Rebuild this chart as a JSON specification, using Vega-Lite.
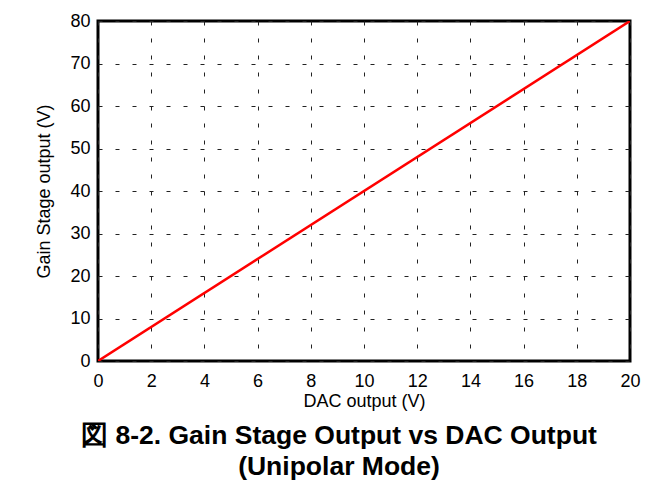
{
  "$schema": "https://vega.github.io/schema/vega-lite/v6.json",
  "width": 532,
  "height": 340,
  "autosize": {"type": "none"},
  "padding": {"left": 98, "top": 21, "right": 33, "bottom": 130},
  "background": "white",
  "config": {
    "font": "Liberation Sans",
    "view": {"stroke": "black", "strokeWidth": 3}
  },
  "title": {
    "text": ["図 8-2. Gain Stage Output vs DAC Output", "(Unipolar Mode)"],
    "orient": "bottom",
    "anchor": "middle",
    "frame": "group",
    "dx": -25,
    "offset": 13,
    "font": "Liberation Sans",
    "fontSize": 26.5,
    "fontWeight": "bold",
    "color": "black",
    "lineHeight": 31
  },
  "data": {
    "values": [
      {"dac": 0, "gain": 0},
      {"dac": 20, "gain": 80}
    ]
  },
  "mark": {"type": "line", "color": "#ff0000", "strokeWidth": 2.5, "clip": true},
  "encoding": {
    "x": {
      "field": "dac",
      "type": "quantitative",
      "scale": {"domain": [0, 20], "nice": false, "zero": false},
      "axis": {
        "title": "DAC output (V)",
        "values": [0, 2, 4, 6, 8, 10, 12, 14, 16, 18, 20],
        "domain": false,
        "ticks": false,
        "labelPadding": 11,
        "labelFontSize": 18,
        "labelColor": "black",
        "labelFlush": false,
        "titleFontSize": 18,
        "titleFontWeight": "normal",
        "titleColor": "black",
        "titlePadding": 2,
        "grid": true,
        "gridColor": "#222222",
        "gridDash": [4, 13],
        "gridWidth": 1
      }
    },
    "y": {
      "field": "gain",
      "type": "quantitative",
      "scale": {"domain": [0, 80], "nice": false, "zero": false},
      "axis": {
        "title": "Gain Stage output (V)",
        "values": [0, 10, 20, 30, 40, 50, 60, 70, 80],
        "domain": false,
        "ticks": false,
        "labelPadding": 8,
        "labelFontSize": 18,
        "labelColor": "black",
        "labelFlush": false,
        "titleFontSize": 18,
        "titleFontWeight": "normal",
        "titleColor": "black",
        "titlePadding": 16,
        "grid": true,
        "gridColor": "#222222",
        "gridDash": [4, 13],
        "gridWidth": 1
      }
    }
  }
}
